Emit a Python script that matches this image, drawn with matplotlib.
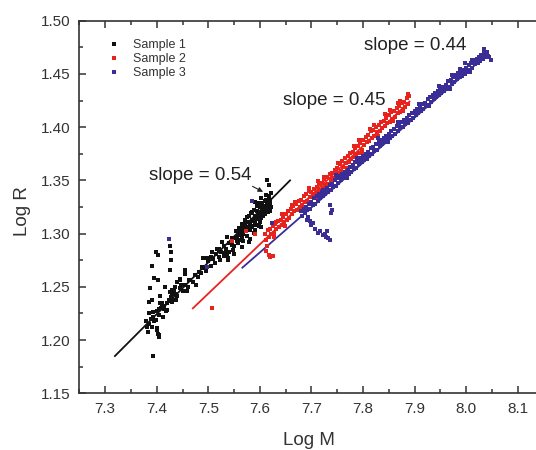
import matplotlib
matplotlib.use("Agg")
import matplotlib.pyplot as plt
from matplotlib.lines import Line2D
from matplotlib.ticker import MultipleLocator, FormatStrFormatter

plt.rcParams['font.family'] = ['Liberation Sans', 'DejaVu Sans']

# ---- data ----
# Sample 1 (black)
s1_x = [7.392, 7.403, 7.405, 7.400, 7.387, 7.390, 7.399, 7.403, 7.426, 7.427,
        7.427, 7.426, 7.394, 7.403, 7.390, 7.407, 7.386, 7.405, 7.410, 7.415,
        7.420, 7.425, 7.430, 7.435, 7.428, 7.440, 7.445, 7.455, 7.455, 7.432,
        7.430, 7.423, 7.413, 7.401, 7.404, 7.385, 7.388, 7.392, 7.390, 7.395,
        7.382, 7.386, 7.393, 7.400, 7.405, 7.410, 7.415, 7.420, 7.425, 7.430,
        7.435, 7.440, 7.445, 7.450, 7.455, 7.460, 7.465, 7.470, 7.475, 7.480,
        7.485, 7.490, 7.495, 7.500, 7.505, 7.505, 7.510, 7.515, 7.520, 7.520,
        7.525, 7.530, 7.530, 7.535, 7.540, 7.540, 7.545, 7.550, 7.550, 7.555,
        7.560, 7.560, 7.565, 7.565, 7.570, 7.570, 7.575, 7.575, 7.580, 7.580,
        7.585, 7.585, 7.590, 7.590, 7.590, 7.595, 7.595, 7.600, 7.600, 7.600,
        7.605, 7.605, 7.610, 7.610, 7.615, 7.615, 7.620, 7.620, 7.618, 7.613,
        7.617, 7.591, 7.575, 7.536, 7.538, 7.550, 7.565, 7.580, 7.490, 7.507,
        7.520, 7.488, 7.536, 7.555, 7.539, 7.445, 7.452, 7.429, 7.416, 7.407,
        7.429, 7.413, 7.598, 7.608, 7.603, 7.612, 7.583, 7.572, 7.562, 7.596,
        7.560, 7.562, 7.566, 7.568, 7.571, 7.573, 7.577, 7.579, 7.582, 7.584,
        7.586, 7.588, 7.591, 7.593, 7.594, 7.597, 7.599, 7.602, 7.603, 7.606,
        7.607, 7.609, 7.611, 7.612, 7.614, 7.616, 7.619, 7.621, 7.622, 7.588,
        7.578, 7.568, 7.598, 7.545, 7.548, 7.553, 7.557, 7.513, 7.517, 7.523,
        7.527, 7.533, 7.497, 7.482, 7.476, 7.462, 7.458, 7.448, 7.438, 7.433,
        7.418, 7.408, 7.398, 7.384, 7.380]
s1_y = [1.185, 1.206, 1.203, 1.209, 1.249, 1.270, 1.283, 1.280, 1.288, 1.283,
        1.275, 1.266, 1.258, 1.256, 1.238, 1.241, 1.236, 1.229, 1.235, 1.232,
        1.228, 1.245, 1.247, 1.250, 1.240, 1.255, 1.257, 1.266, 1.262, 1.247,
        1.243, 1.238, 1.222, 1.211, 1.205, 1.215, 1.220, 1.222, 1.212, 1.218,
        1.212, 1.225, 1.226, 1.227, 1.224, 1.232, 1.229, 1.235, 1.237, 1.236,
        1.243, 1.241, 1.249, 1.246, 1.252, 1.250, 1.256, 1.255, 1.261, 1.259,
        1.263, 1.268, 1.265, 1.274, 1.270, 1.278, 1.276, 1.281, 1.278, 1.285,
        1.283, 1.288, 1.279, 1.286, 1.291, 1.283, 1.289, 1.296, 1.288, 1.293,
        1.300, 1.294, 1.297, 1.305, 1.302, 1.309, 1.306, 1.298, 1.310, 1.303,
        1.313, 1.307, 1.317, 1.310, 1.303, 1.315, 1.321, 1.318, 1.325, 1.311,
        1.322, 1.329, 1.326, 1.318, 1.324, 1.331, 1.328, 1.321, 1.335, 1.350,
        1.346, 1.330, 1.316, 1.280, 1.275, 1.281, 1.287, 1.295, 1.277, 1.283,
        1.286, 1.269, 1.297, 1.297, 1.277, 1.256, 1.252, 1.247, 1.250, 1.235,
        1.238, 1.222, 1.314, 1.320, 1.306, 1.332, 1.319, 1.312, 1.302, 1.326,
        1.305, 1.299, 1.309, 1.300, 1.313, 1.305, 1.311, 1.317, 1.306, 1.320,
        1.312, 1.322, 1.314, 1.308, 1.326, 1.318, 1.329, 1.315, 1.333, 1.325,
        1.317, 1.331, 1.322, 1.336, 1.328, 1.320, 1.332, 1.325, 1.338, 1.301,
        1.292, 1.293, 1.307, 1.296, 1.285, 1.302, 1.291, 1.272, 1.286, 1.275,
        1.292, 1.282, 1.277, 1.264, 1.252, 1.256, 1.246, 1.252, 1.238, 1.246,
        1.227, 1.230, 1.219, 1.208, 1.218]

# Sample 2 (red)
s2_x = [7.507, 7.546, 7.573, 7.591, 7.617, 7.620, 7.625, 7.614, 7.612,
        7.628, 7.642, 7.668, 7.712, 7.792, 7.822, 7.852, 7.872, 7.887,
        7.610, 7.615, 7.620, 7.625, 7.630, 7.635, 7.640, 7.645, 7.650, 7.655,
        7.660, 7.665, 7.670, 7.675, 7.680, 7.685, 7.690, 7.695, 7.700, 7.705,
        7.710, 7.715, 7.720, 7.725, 7.730, 7.735, 7.740, 7.745, 7.750, 7.755,
        7.760, 7.765, 7.770, 7.775, 7.780, 7.785, 7.790, 7.795, 7.800, 7.805,
        7.810, 7.815, 7.820, 7.825, 7.830, 7.835, 7.840, 7.845, 7.850, 7.855,
        7.860, 7.865, 7.870, 7.875, 7.880, 7.885, 7.890,
        7.612, 7.617, 7.622, 7.627, 7.632, 7.637, 7.642, 7.647, 7.652, 7.657,
        7.662, 7.667, 7.672, 7.677, 7.682, 7.687, 7.692, 7.697, 7.702, 7.707,
        7.712, 7.717, 7.722, 7.727, 7.732, 7.737, 7.742, 7.747, 7.752, 7.757,
        7.762, 7.767, 7.772, 7.777, 7.782, 7.787, 7.792, 7.797, 7.802, 7.807,
        7.812, 7.817, 7.822, 7.827, 7.832, 7.837, 7.842, 7.847, 7.852, 7.857,
        7.862, 7.867, 7.872, 7.877, 7.882, 7.887,
        7.632, 7.648, 7.663, 7.678, 7.695, 7.708, 7.724, 7.738, 7.752, 7.768,
        7.783, 7.798, 7.813, 7.828, 7.843, 7.858, 7.868, 7.878]
s2_y = [1.230, 1.293, 1.3025, 1.300, 1.280, 1.278, 1.279, 1.288, 1.284,
        1.297, 1.318, 1.330, 1.349, 1.388, 1.402, 1.416, 1.425, 1.431,
        1.300, 1.303, 1.304, 1.307, 1.309, 1.312, 1.313, 1.316, 1.318, 1.321,
        1.323, 1.326, 1.328, 1.331, 1.332, 1.335, 1.337, 1.340, 1.339, 1.342,
        1.344, 1.347, 1.348, 1.351, 1.353, 1.356, 1.357, 1.360, 1.362, 1.365,
        1.368, 1.371, 1.373, 1.376, 1.377, 1.380, 1.382, 1.385, 1.388, 1.391,
        1.393, 1.396, 1.397, 1.400, 1.402, 1.405, 1.406, 1.409, 1.411, 1.414,
        1.415, 1.418, 1.420, 1.423, 1.424, 1.427, 1.429,
        1.294, 1.297, 1.300, 1.301, 1.304, 1.306, 1.308, 1.311, 1.313, 1.315,
        1.318, 1.321, 1.322, 1.325, 1.327, 1.330, 1.331, 1.334, 1.334, 1.337,
        1.339, 1.341, 1.343, 1.346, 1.347, 1.350, 1.352, 1.355, 1.357, 1.359,
        1.363, 1.366, 1.367, 1.370, 1.372, 1.375, 1.376, 1.379, 1.383, 1.386,
        1.387, 1.390, 1.392, 1.395, 1.396, 1.399, 1.401, 1.404, 1.405, 1.408,
        1.410, 1.413, 1.414, 1.417, 1.419, 1.422,
        1.311, 1.307, 1.327, 1.322, 1.343, 1.334, 1.353, 1.347, 1.366, 1.362,
        1.382, 1.377, 1.398, 1.392, 1.412, 1.406, 1.423, 1.415]

# Sample 3 (blue)
s3_x = [7.423, 7.497, 7.584, 7.623,
        7.691, 7.694, 7.697, 7.700, 7.703, 7.707, 7.712, 7.717, 7.723, 7.728,
        7.733, 7.735, 7.730, 7.727, 7.736, 7.739, 7.738,
        7.680, 7.685, 7.690, 7.695, 7.700, 7.705, 7.710, 7.715, 7.720, 7.725,
        7.730, 7.735, 7.740, 7.745, 7.750, 7.755, 7.760, 7.765, 7.770, 7.775,
        7.780, 7.785, 7.790, 7.795, 7.800, 7.805, 7.810, 7.815, 7.820, 7.825,
        7.830, 7.835, 7.840, 7.845, 7.850, 7.855, 7.860, 7.865, 7.870, 7.875,
        7.880, 7.885, 7.890, 7.895, 7.900, 7.905, 7.910, 7.915, 7.920, 7.925,
        7.930, 7.935, 7.940, 7.945, 7.950, 7.955, 7.960, 7.965, 7.970, 7.975,
        7.980, 7.985, 7.990, 7.995, 8.000, 8.005, 8.010, 8.015, 8.020, 8.025,
        8.030, 8.035, 8.040,
        7.682, 7.687, 7.692, 7.697, 7.702, 7.707, 7.712, 7.717, 7.722, 7.727,
        7.732, 7.737, 7.742, 7.747, 7.752, 7.757, 7.762, 7.767, 7.772, 7.777,
        7.782, 7.787, 7.792, 7.797, 7.802, 7.807, 7.812, 7.817, 7.822, 7.827,
        7.832, 7.837, 7.842, 7.847, 7.852, 7.857, 7.862, 7.867, 7.872, 7.877,
        7.882, 7.887, 7.892, 7.897, 7.902, 7.907, 7.912, 7.917, 7.922, 7.927,
        7.932, 7.937, 7.942, 7.947, 7.952, 7.957, 7.962, 7.967, 7.972, 7.977,
        7.982, 7.987, 7.992, 7.997, 8.002, 8.007, 8.012, 8.017, 8.022, 8.027,
        8.032, 8.037, 8.042, 8.045, 8.048,
        7.972, 7.998, 8.012, 8.034,
        7.722, 7.748, 7.768, 7.788, 7.808, 7.828, 7.848, 7.868, 7.888, 7.908,
        7.928, 7.948, 7.968, 7.988, 8.008, 8.028]
s3_y = [1.295, 1.269, 1.331, 1.310,
        1.313, 1.316, 1.312, 1.308, 1.310, 1.304, 1.301, 1.302, 1.299, 1.297,
        1.296, 1.294, 1.302, 1.300, 1.327, 1.322, 1.319,
        1.321, 1.323, 1.325, 1.328, 1.330, 1.333, 1.335, 1.337, 1.339, 1.341,
        1.343, 1.346, 1.347, 1.350, 1.352, 1.354, 1.356, 1.358, 1.360, 1.363,
        1.364, 1.367, 1.369, 1.371, 1.373, 1.375, 1.377, 1.380, 1.381, 1.384,
        1.386, 1.388, 1.390, 1.392, 1.394, 1.396, 1.398, 1.401, 1.402, 1.405,
        1.407, 1.409, 1.411, 1.413, 1.415, 1.417, 1.419, 1.422, 1.423, 1.426,
        1.428, 1.430, 1.432, 1.434, 1.436, 1.438, 1.440, 1.443, 1.444, 1.447,
        1.449, 1.451, 1.452, 1.454, 1.456, 1.458, 1.460, 1.463, 1.464, 1.466,
        1.468, 1.470, 1.471,
        1.317, 1.319, 1.322, 1.323, 1.327, 1.328, 1.331, 1.333, 1.335, 1.337,
        1.339, 1.341, 1.344, 1.345, 1.348, 1.350, 1.352, 1.354, 1.356, 1.358,
        1.361, 1.362, 1.365, 1.367, 1.369, 1.371, 1.373, 1.375, 1.378, 1.379,
        1.382, 1.384, 1.386, 1.388, 1.390, 1.392, 1.394, 1.396, 1.399, 1.400,
        1.403, 1.405, 1.407, 1.409, 1.411, 1.413, 1.415, 1.417, 1.420, 1.421,
        1.424, 1.426, 1.428, 1.430, 1.432, 1.434, 1.436, 1.438, 1.441, 1.442,
        1.445, 1.447, 1.448, 1.450, 1.452, 1.454, 1.456, 1.459, 1.460, 1.462,
        1.464, 1.466, 1.467, 1.466, 1.463,
        1.449, 1.460, 1.463, 1.473,
        1.341, 1.355, 1.352, 1.371, 1.370, 1.390, 1.386, 1.405, 1.404, 1.422,
        1.420, 1.439, 1.436, 1.455, 1.452, 1.468]

# fitted lines (end points)
fit1_x, fit1_y = [7.319, 7.6585], [1.185, 1.350]
fit2_x, fit2_y = [7.470, 7.890], [1.2298, 1.424]
fit3_x, fit3_y = [7.566, 8.040], [1.268, 1.468]

labels = ['Sample 1', 'Sample 2', 'Sample 3']
colors = ['#111111', '#e8231d', '#3a2d96']
slopes = ['slope = 0.54', 'slope = 0.45', 'slope = 0.44']

# ---- figure ----
fig = plt.figure(figsize=(5.36, 4.5), dpi=100)
ax = fig.add_axes([0.148, 0.126, 0.8662, 0.828])

ax.plot(fit1_x, fit1_y, '-', color=colors[0], lw=1.3)
ax.plot(fit2_x, fit2_y, '-', color=colors[1], lw=1.3)
ax.plot(fit3_x, fit3_y, '-', color=colors[2], lw=1.3)

ms = 2.5
ax.plot(s1_x, s1_y, 's', color=colors[0], ms=ms, mew=0)
ax.plot(s2_x, s2_y, 's', color=colors[1], ms=ms, mew=0)
ax.plot(s3_x, s3_y, 's', color=colors[2], ms=ms, mew=0)

ax.set_xlim(7.25, 8.15)
ax.set_ylim(1.15, 1.50)
ax.xaxis.set_major_locator(MultipleLocator(0.1))
ax.xaxis.set_minor_locator(MultipleLocator(0.05))
ax.yaxis.set_major_locator(MultipleLocator(0.05))
ax.yaxis.set_minor_locator(MultipleLocator(0.025))
ax.xaxis.set_major_formatter(FormatStrFormatter('%.1f'))
ax.yaxis.set_major_formatter(FormatStrFormatter('%.2f'))

tc = '#333333'
ax.tick_params(which='both', direction='in', top=True, right=True,
               color=tc, width=1.1, labelcolor=tc, labelsize=11, pad=6)
ax.tick_params(which='major', length=5)
ax.tick_params(which='minor', length=3)
for sp in ax.spines.values():
    sp.set_linewidth(1.2)
    sp.set_color(tc)

ax.set_xlabel('Log M', fontsize=13.5, color=tc)
ax.set_ylabel('Log R', fontsize=13.5, color=tc)
ax.xaxis.set_label_coords(0.4947, -0.105)
ax.yaxis.set_label_coords(-0.104, 0.489)

# slope labels
ax.text(7.484, 1.355, slopes[0], fontsize=13.5, color='#222222', ha='center', va='center')
ax.text(7.744, 1.4255, slopes[1], fontsize=13.5, color='#222222', ha='center', va='center')
ax.text(7.901, 1.477, slopes[2], fontsize=13.5, color='#222222', ha='center', va='center')
ax.annotate('', xy=(7.611, 1.338), xytext=(7.581, 1.3456),
            arrowprops=dict(arrowstyle='-|>', color='#222222', lw=0.8, mutation_scale=7))

handles = [Line2D([], [], ls='none', marker='s', ms=2.5, mew=0, color=c) for c in colors]
ax.legend(handles, labels, loc='upper left', bbox_to_anchor=(0.061, 0.95),
          frameon=False, fontsize=9, handlelength=1.0, handletextpad=1.0,
          labelspacing=0.15, borderpad=0, borderaxespad=0, labelcolor='#333333')

fig.savefig('out.png', dpi=100)
